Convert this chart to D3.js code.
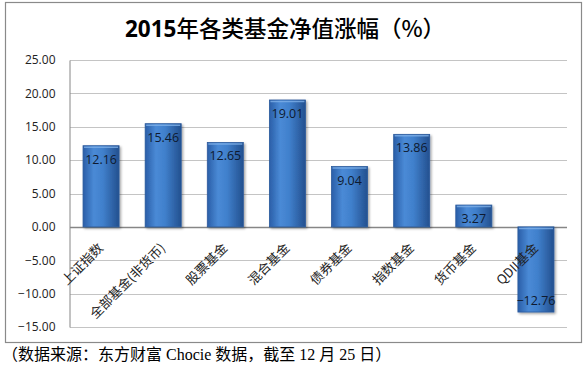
<!DOCTYPE html>
<html>
<head>
<meta charset="utf-8">
<script src="https://cdn.jsdelivr.net/npm/d3@7"></script>
<style>
  body { margin: 0; background: #fff; }
  svg { display: block; }
</style>
</head>
<body>
<div id="chart"></div>
<script>
// data
const categories = ["上证指数", "全部基金(非货币)", "股票基金", "混合基金", "债券基金", "指数基金", "货币基金", "QDII基金"];
const values = [12.16, 15.46, 12.65, 19.01, 9.04, 13.86, 3.27, -12.76];
const yTicks = [-15, -10, -5, 0, 5, 10, 15, 20, 25];
const titleYear = "2015";
const titleRest = "年各类基金净值涨幅（%）";
const sourceNote = "（数据来源：东方财富 Chocie 数据，截至 12 月 25 日）";

let width = 588, height = 368;
let margin = {top: 60, right: 21, bottom: 41, left: 70};

let svg = d3.select("#chart")
    .append("svg")
    .attr("width", width)
    .attr("height", height);

// gradient + shadow for the bars
let defs = svg.append("defs");
let grad = defs.append("linearGradient")
    .attr("id", "barGrad")
    .attr("x1", "0%").attr("x2", "100%").attr("y1", "0%").attr("y2", "0%");
grad.append("stop").attr("offset", "0%").attr("stop-color", "#2a5ea8");
grad.append("stop").attr("offset", "30%").attr("stop-color", "#4a8ad6");
grad.append("stop").attr("offset", "55%").attr("stop-color", "#4080cc");
grad.append("stop").attr("offset", "100%").attr("stop-color", "#23508f");

let shadow = defs.append("filter").attr("id", "shadow")
    .attr("x", "-20%").attr("y", "-20%").attr("width", "150%").attr("height", "150%");
shadow.append("feDropShadow")
    .attr("dx", 1.5).attr("dy", 1.5).attr("stdDeviation", 1.2)
    .attr("flood-color", "#000").attr("flood-opacity", 0.35);

// outer chart border
svg.append("rect")
    .attr("x", 5.5).attr("y", 2.5)
    .attr("width", 576).attr("height", 340)
    .attr("fill", "#fff")
    .attr("stroke", "#8a8a8a")
    .attr("stroke-width", 1.2);

// title
let title = svg.append("text")
    .attr("x", 285)
    .attr("y", 37)
    .attr("text-anchor", "middle")
    .style("font-family", "'Open Sans', 'Noto Sans CJK SC', sans-serif")
    .style("font-size", "22.5px")
    .style("fill", "#000");
title.append("tspan").style("font-weight", "bold").text(titleYear);
title.append("tspan").style("font-family", "'Noto Sans CJK SC'").style("font-weight", "500").text(titleRest);

// scales
const X_SCALE = d3.scaleBand()
    .domain(categories)
    .range([margin.left, width - margin.right])
    .paddingInner(0.42)
    .paddingOuter(0.21);

const Y_SCALE = d3.scaleLinear()
    .domain([-15, 25])
    .range([height - margin.bottom, margin.top]);

// gridlines
svg.append("g")
    .selectAll("line")
    .data(yTicks)
    .enter()
    .append("line")
    .attr("x1", margin.left)
    .attr("x2", width - margin.right)
    .attr("y1", d => Math.round(Y_SCALE(d)) + 0.5)
    .attr("y2", d => Math.round(Y_SCALE(d)) + 0.5)
    .attr("stroke", d => d === 0 ? "#868686" : "#c4c4c4")
    .attr("stroke-width", d => d === 0 ? 1.3 : 1);

// y axis
let yAxis = svg.append("g")
    .attr("transform", "translate(" + (margin.left - 0.5) + ",0)")
    .call(d3.axisLeft(Y_SCALE).tickValues(yTicks).tickSize(0).tickPadding(14).tickFormat(d3.format(".2f")));
yAxis.select(".domain").attr("stroke", "#868686");
yAxis.selectAll("text")
    .style("font-family", "'Open Sans', sans-serif")
    .style("font-size", "12px")
    .style("fill", "#222");

// bars
svg.append("g")
    .selectAll("rect")
    .data(values)
    .enter()
    .append("rect")
    .attr("x", (d, i) => X_SCALE(categories[i]))
    .attr("y", d => Y_SCALE(Math.max(d, 0)))
    .attr("width", X_SCALE.bandwidth())
    .attr("height", d => Math.abs(Y_SCALE(d) - Y_SCALE(0)))
    .attr("fill", "url(#barGrad)")
    .attr("stroke", "#2b5a9c")
    .attr("stroke-width", 0.8)
    .attr("filter", "url(#shadow)");

// light top edge on each bar
svg.append("g")
    .selectAll("line")
    .data(values)
    .enter()
    .append("line")
    .attr("x1", (d, i) => X_SCALE(categories[i]) + 1)
    .attr("x2", (d, i) => X_SCALE(categories[i]) + X_SCALE.bandwidth() - 1)
    .attr("y1", d => Y_SCALE(Math.max(d, 0)) + 1.5)
    .attr("y2", d => Y_SCALE(Math.max(d, 0)) + 1.5)
    .attr("stroke", "#7fb0e8")
    .attr("stroke-width", 1.5)
    .attr("opacity", 0.8);

// value labels inside the bars
svg.append("g")
    .selectAll("text")
    .data(values)
    .enter()
    .append("text")
    .attr("x", (d, i) => X_SCALE(categories[i]) + X_SCALE.bandwidth() / 2)
    .attr("y", d => d >= 0 ? Y_SCALE(d) + 18 : Y_SCALE(d) - 7)
    .attr("text-anchor", "middle")
    .style("font-family", "'Open Sans', sans-serif")
    .style("font-size", "12.5px")
    .style("fill", "#0e1a30")
    .text(d => d3.format(".2f")(d));

// rotated category labels
svg.append("g")
    .selectAll("text")
    .data(categories)
    .enter()
    .append("text")
    .attr("transform", d => "translate(" + (X_SCALE(d) + X_SCALE.bandwidth() / 2 + 3) + "," + (Y_SCALE(0) + 22) + ") rotate(-45)")
    .attr("text-anchor", "end")
    .style("font-family", "'Noto Sans CJK SC', sans-serif")
    .style("font-size", "13px")
    .style("fill", "#222")
    .text(d => d);

// source note under the chart
svg.append("text")
    .attr("x", 2)
    .attr("y", 360)
    .style("font-family", "'Liberation Serif', 'Noto Sans CJK SC', serif")
    .style("font-size", "16px")
    .style("fill", "#000")
    .text(sourceNote);
</script>
</body>
</html>
